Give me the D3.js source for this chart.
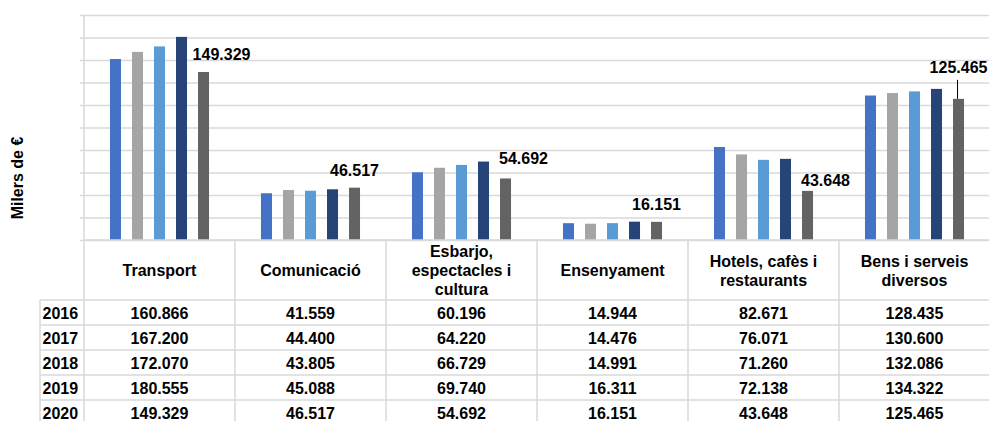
<!DOCTYPE html>
<html>
<head>
<meta charset="utf-8">
<script src="https://cdn.jsdelivr.net/npm/d3@7"></script>
<style>
  body { margin: 0; background: #fff; }
  svg text { font-family: Arial, "Liberation Sans", sans-serif; font-weight: bold; fill: #000; }
</style>
</head>
<body>
<div id="chart"></div>
<script>
const categories = ["Transport", "Comunicació", "Esbarjo, espectacles i cultura",
                    "Ensenyament", "Hotels, cafès i restaurants", "Bens i serveis diversos"];
const years = ["2016", "2017", "2018", "2019", "2020"];
const v2016 = [160.866, 41.559, 60.196, 14.944, 82.671, 128.435];
const v2017 = [167.200, 44.400, 64.220, 14.476, 76.071, 130.600];
const v2018 = [172.070, 43.805, 66.729, 14.991, 71.260, 132.086];
const v2019 = [180.555, 45.088, 69.740, 16.311, 72.138, 134.322];
const v2020 = [149.329, 46.517, 54.692, 16.151, 43.648, 125.465];
const yTicks = [0, 20, 40, 60, 80, 100, 120, 140, 160, 180, 200];

const series = [v2016, v2017, v2018, v2019, v2020];
const colors = ["#4472C4", "#A5A5A5", "#5B9BD5", "#264478", "#636363"];

// label nudges for the 2020 values (dx, dy from bar top centre)
const labelNudge = [[18, -12], [0, -12], [18, -14], [0, -12], [18, -5], [0, -26]];

const width = 989;
const height = 421;
const plotL = 84, plotR = 990, plotT = 15, base = 240;
const headerBottom = 300, rowH = 25, yearLeft = 40;
const fmt = v => v.toFixed(3);

const svg = d3.select("#chart").append("svg")
    .attr("width", width)
    .attr("height", height);

const x0 = d3.scaleBand().domain(categories).range([plotL, plotR]);
const x1 = d3.scaleBand().domain(years).range([0, x0.bandwidth()])
    .paddingInner(0.5).paddingOuter(1.18);
const y = d3.scaleLinear().domain([0, 200]).range([base, plotT]);

// gridlines
svg.append("g")
    .attr("class", "grid")
    .attr("transform", "translate(" + plotL + ",0)")
    .call(d3.axisLeft(y).tickValues(yTicks).tickFormat("").tickSize(-(plotR - plotL)).tickSizeOuter(0))
    .call(g => g.select(".domain").remove())
    .call(g => g.selectAll("line").attr("stroke", "#d9d9d9").attr("stroke-width", 1.5));

// y axis ticks
svg.append("g")
    .attr("transform", "translate(" + plotL + ",0)")
    .call(d3.axisLeft(y).tickValues(yTicks).tickFormat("").tickSize(4).tickSizeOuter(0))
    .call(g => g.select(".domain").remove())
    .call(g => g.selectAll("line").attr("stroke", "#d9d9d9").attr("stroke-width", 1.5));

// axis line down through the table
svg.append("line")
    .attr("x1", plotL).attr("x2", plotL).attr("y1", plotT).attr("y2", height)
    .attr("stroke", "#d9d9d9").attr("stroke-width", 1.5);

// bars
const groups = svg.append("g").selectAll("g")
    .data(categories)
    .join("g")
    .attr("transform", d => "translate(" + x0(d) + ",0)");

groups.selectAll("rect")
    .data((d, i) => years.map((yr, k) => ({ yr: yr, v: series[k][i], k: k })))
    .join("rect")
    .attr("x", d => x1(d.yr))
    .attr("width", x1.bandwidth())
    .attr("y", d => y(d.v))
    .attr("height", d => base - y(d.v))
    .attr("fill", d => colors[d.k]);

// 2020 data labels
categories.forEach((c, i) => {
    const cx = x0(c) + x1("2020") + x1.bandwidth() / 2;
    const ty = y(v2020[i]);
    const [dx, dy] = labelNudge[i];
    svg.append("text")
        .attr("x", cx + dx)
        .attr("y", ty + dy)
        .attr("text-anchor", "middle")
        .style("font-size", "16px")
        .text(fmt(v2020[i]));
    if (dy < -20) {
        svg.append("line")
            .attr("x1", cx - 1).attr("x2", cx - 1)
            .attr("y1", ty + dy + 7).attr("y2", ty)
            .attr("stroke", "#000").attr("stroke-width", 1);
    }
});

// table
const tbl = svg.append("g").attr("class", "table");
const lineCol = "#d9d9d9";

tbl.append("line")
    .attr("x1", plotL).attr("x2", plotR).attr("y1", base).attr("y2", base)
    .attr("stroke", lineCol).attr("stroke-width", 1.5);

categories.forEach(c => {
    tbl.append("line")
        .attr("x1", x0(c) + x0.bandwidth()).attr("x2", x0(c) + x0.bandwidth())
        .attr("y1", base).attr("y2", height)
        .attr("stroke", lineCol).attr("stroke-width", 1.5);
});

years.forEach((yr, k) => {
    const ry = headerBottom + k * rowH;
    tbl.append("line")
        .attr("x1", yearLeft).attr("x2", plotR).attr("y1", ry).attr("y2", ry)
        .attr("stroke", lineCol).attr("stroke-width", 1.5);
    tbl.append("text")
        .attr("x", yearLeft + 2.5)
        .attr("y", ry + rowH / 2 + 6)
        .style("font-size", "16px")
        .text(yr);
    categories.forEach((c, i) => {
        tbl.append("text")
            .attr("x", x0(c) + x0.bandwidth() / 2)
            .attr("y", ry + rowH / 2 + 6)
            .attr("text-anchor", "middle")
            .style("font-size", "16px")
            .text(fmt(series[k][i]));
    });
});

tbl.append("line")
    .attr("x1", yearLeft).attr("x2", yearLeft).attr("y1", headerBottom).attr("y2", height)
    .attr("stroke", lineCol).attr("stroke-width", 1.5);

// header cells, wrapped
function wrapLines(str, maxW) {
    const probe = svg.append("text").style("font-size", "16px");
    const words = str.split(" ");
    const lines = [];
    let cur = words[0];
    for (let w = 1; w < words.length; w++) {
        probe.text(cur + " " + words[w]);
        if (probe.node().getComputedTextLength() > maxW) {
            lines.push(cur);
            cur = words[w];
        } else {
            cur = cur + " " + words[w];
        }
    }
    lines.push(cur);
    probe.remove();
    return lines;
}

categories.forEach(c => {
    const lines = wrapLines(c, 125);
    const lh = 19;
    const mid = (base + headerBottom) / 2 + 6;
    const t = tbl.append("text")
        .attr("text-anchor", "middle")
        .style("font-size", "16px");
    lines.forEach((ln, j) => {
        t.append("tspan")
            .attr("x", x0(c) + x0.bandwidth() / 2)
            .attr("y", mid + (j - (lines.length - 1) / 2) * lh)
            .text(ln);
    });
});

// y axis title
svg.append("text")
    .attr("transform", "translate(23,178) rotate(-90)")
    .attr("text-anchor", "middle")
    .style("font-size", "16px")
    .text("Milers de €");
</script>
</body>
</html>
